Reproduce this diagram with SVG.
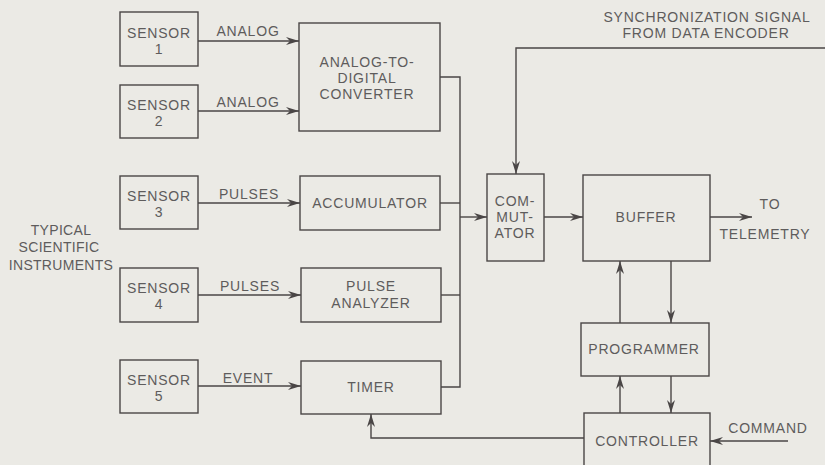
<svg xmlns="http://www.w3.org/2000/svg" width="825" height="465" viewBox="0 0 825 465">
<style>
.box{fill:none;stroke:#4a4646;stroke-width:1.4}
.ln{fill:none;stroke:#4a4646;stroke-width:1.4}
.ar{fill:none;stroke:#4a4646;stroke-width:1.4;marker-end:url(#ah)}
text{font-family:"Liberation Sans",Arial,sans-serif;font-size:14px;fill:#5e5c5c;text-anchor:middle;letter-spacing:0.8px}
.side{letter-spacing:0.3px}
</style>
<defs>
<marker id="ah" markerUnits="userSpaceOnUse" markerWidth="14" markerHeight="10" refX="13" refY="4" orient="auto">
<path d="M0,0 L13,4 L0,8 L4,4 z" fill="#4a4646"/>
</marker>
</defs>
<rect width="825" height="465" fill="#ebeae5"/>
<g id="sensor1"><rect class="box" x="120" y="12" width="78" height="54"/><text x="159" y="38">SENSOR</text><text x="159" y="54">1</text></g>
<g id="sensor2"><rect class="box" x="120" y="85" width="78" height="53"/><text x="159" y="110">SENSOR</text><text x="159" y="126">2</text></g>
<g id="sensor3"><rect class="box" x="120" y="176" width="78" height="53"/><text x="159" y="201">SENSOR</text><text x="159" y="217">3</text></g>
<g id="sensor4"><rect class="box" x="120" y="268" width="78" height="54"/><text x="159" y="293">SENSOR</text><text x="159" y="309">4</text></g>
<g id="sensor5"><rect class="box" x="120" y="360" width="78" height="53"/><text x="159" y="385">SENSOR</text><text x="159" y="401">5</text></g>
<g id="adc"><rect class="box" x="299" y="23" width="141" height="108"/><text x="367" y="67">ANALOG-TO-</text><text x="367" y="83">DIGITAL</text><text x="367" y="99">CONVERTER</text></g>
<g id="accumulator"><rect class="box" x="300" y="176" width="140" height="54"/><text x="370" y="208">ACCUMULATOR</text></g>
<g id="pulseanalyzer"><rect class="box" x="301" y="268" width="140" height="54"/><text x="371" y="291">PULSE</text><text x="371" y="308">ANALYZER</text></g>
<g id="timer"><rect class="box" x="301" y="361" width="140" height="53"/><text x="371" y="392">TIMER</text></g>
<g id="commutator"><rect class="box" x="487" y="174" width="57" height="87"/><text x="515" y="206">COM-</text><text x="515" y="222">MUT-</text><text x="515" y="238">ATOR</text></g>
<g id="buffer"><rect class="box" x="583" y="175" width="127" height="86"/><text x="646" y="222">BUFFER</text></g>
<g id="programmer"><rect class="box" x="581" y="323" width="128" height="53"/><text x="644" y="354">PROGRAMMER</text></g>
<g id="controller"><rect class="box" x="584" y="413" width="126" height="60"/><text x="647" y="446">CONTROLLER</text></g>
<g id="labels">
<text class="side" x="61" y="235">TYPICAL</text>
<text class="side" x="59" y="252">SCIENTIFIC</text>
<text class="side" x="61" y="270">INSTRUMENTS</text>
<text x="707" y="22">SYNCHRONIZATION SIGNAL</text>
<text x="706" y="38">FROM DATA ENCODER</text>
<text x="770" y="209">TO</text>
<text x="765" y="239">TELEMETRY</text>
<text x="768" y="433">COMMAND</text>
<text x="248" y="36">ANALOG</text>
<text x="248" y="107">ANALOG</text>
<text x="249" y="199">PULSES</text>
<text x="250" y="291">PULSES</text>
<text x="248" y="383">EVENT</text>
</g>
<g id="connectors">
<line class="ar" x1="198" y1="41" x2="299" y2="41"/>
<line class="ar" x1="198" y1="111" x2="299" y2="111"/>
<line class="ar" x1="198" y1="203" x2="300" y2="203"/>
<line class="ar" x1="198" y1="295" x2="301" y2="295"/>
<line class="ar" x1="198" y1="386" x2="301" y2="386"/>
<polyline class="ln" points="440,77 460,77 460,387 441,387"/>
<line class="ln" x1="440" y1="203" x2="460" y2="203"/>
<line class="ln" x1="441" y1="295" x2="460" y2="295"/>
<line class="ar" x1="460" y1="217" x2="487" y2="217"/>
<polyline class="ar" points="825,48 516,48 516,174"/>
<line class="ar" x1="544" y1="217" x2="583" y2="217"/>
<line class="ar" x1="710" y1="217" x2="752" y2="217"/>
<line class="ar" x1="620" y1="323" x2="620" y2="261"/>
<line class="ar" x1="671" y1="261" x2="671" y2="323"/>
<line class="ar" x1="620" y1="413" x2="620" y2="376"/>
<line class="ar" x1="671" y1="376" x2="671" y2="413"/>
<polyline class="ar" points="584,438 371,438 371,414"/>
<line class="ar" x1="788" y1="441" x2="710" y2="441"/>
</g>
</svg>
